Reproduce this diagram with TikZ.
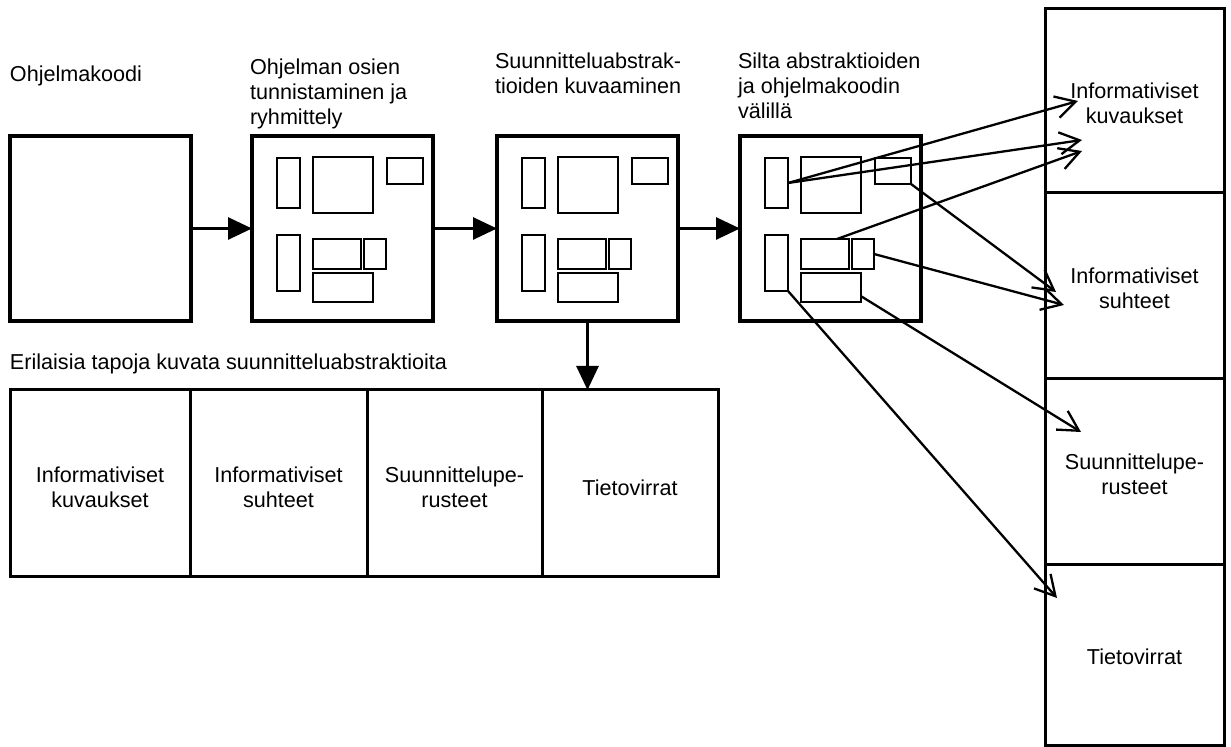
\documentclass[tikz,border=0pt]{standalone}
\usepackage{fontspec}
\setmainfont{Liberation Sans}
\usetikzlibrary{arrows.meta,calc}
\newcommand\diagfont{\fontsize{10.8pt}{12.5pt}\selectfont}
% inner pieces of a stage box, placed relative to the box's top-left corner
\newcommand\stageparts[1]{%
  \node[part,minimum width=11.5pt,minimum height=25pt] (#1a) at (25,22) {};
  \node[part,minimum width=30pt,minimum height=28pt] (#1b) at (61,21) {};
  \node[part,minimum width=18pt,minimum height=13pt] (#1c) at (135,22) {};
  \node[part,minimum width=11.5pt,minimum height=28pt] (#1d) at (25,99) {};
  \node[part,minimum width=24pt,minimum height=15pt] (#1e) at (61,103) {};
  \node[part,minimum width=11pt,minimum height=15pt] (#1f) at (112,103) {};
  \node[part,minimum width=30pt,minimum height=14.5pt] (#1g) at (61,137) {};
}
\begin{document}
\begin{tikzpicture}[x=0.5pt,y=-0.5pt,
  every node/.style={inner sep=0pt,outer sep=0pt,font=\diagfont},
  stage/.style={draw,line width=1.6pt,fill=white,anchor=north west,
    minimum width=90.5pt,minimum height=92.5pt},
  part/.style={draw,line width=1.4pt,anchor=north west},
  cell/.style={draw,line width=1.5pt,anchor=north west,align=center},
  title/.style={anchor=north west,align=left},
  flow/.style={line width=1.4pt,-{Triangle[length=12pt,width=11pt]}},
  link/.style={line width=1.15pt,-{Straight Barb[length=10pt,width=11pt]}}]
\useasboundingbox (0,0) rectangle (1231,747);

% titles
\node[title] (tcode) at (10,66) {Ohjelmakoodi};
\node[title] (tgroup) at (250,59) {Ohjelman osien\\tunnistaminen ja\\ryhmittely};
\node[title] (tdesc) at (495,53) {Suunnitteluabstrak-\\tioiden kuvaaminen};
\node[title] (tbridge) at (738,53) {Silta abstraktioiden\\ja ohjelmakoodin\\välillä};
\node[title] (tways) at (10,354) {Erilaisia tapoja kuvata suunnitteluabstraktioita};

% stage boxes
\node[stage] (code) at (10,136) {};
\node[stage] (group) at (252,136) {};
\node[stage] (desc) at (497,136) {};
\node[stage] (bridge) at (740,136) {};
\begin{scope}[shift={(252,136)}]\stageparts{g}\end{scope}
\begin{scope}[shift={(497,136)}]\stageparts{d}\end{scope}
\begin{scope}[shift={(740,136)}]\stageparts{b}\end{scope}

% ways of describing design abstractions
\node[cell,minimum width=90pt,minimum height=93.5pt] (t1) at (10,390) {};
\node[cell,minimum width=88.5pt,minimum height=93.5pt] (t2) at (190,390) {};
\node[cell,minimum width=87.5pt,minimum height=93.5pt] (t3) at (367,390) {};
\node[cell,minimum width=88pt,minimum height=93.5pt] (t4) at (542,390) {};
\node[align=center] at ($(t1.center)+(0,4)$) {Informativiset\\kuvaukset};
\node[align=center] at ($(t2.center)+(0,4)$) {Informativiset\\suhteet};
\node[align=center] at ($(t3.center)+(0,4)$) {Suunnittelupe-\\rusteet};
\node[align=center] at ($(t4.center)+(0,4)$) {Tietovirrat};

% right-hand column
\node[cell,minimum width=89.5pt,minimum height=92pt] (r1) at (1045,9) {};
\node[cell,minimum width=89.5pt,minimum height=93pt] (r2) at (1045,193) {};
\node[cell,minimum width=89.5pt,minimum height=93pt] (r3) at (1045,379) {};
\node[cell,minimum width=89.5pt,minimum height=90pt] (r4) at (1045,565) {};
\node[align=center] at ($(r1.center)+(0,2)$) {Informativiset\\kuvaukset};
\node[align=center] at ($(r2.center)+(0,2)$) {Informativiset\\suhteet};
\node[align=center] at ($(r3.center)+(0,2)$) {Suunnittelupe-\\rusteet};
\node[align=center] at ($(r4.center)+(0,2)$) {Tietovirrat};

% main flow
\draw[flow] (code.east) -- (group.west);
\draw[flow] (group.east) -- (desc.west);
\draw[flow] (desc.east) -- (bridge.west);
\draw[flow] (desc.south) -- (desc.south |- t4.north);

% links from the bridge pieces to the description kinds
\coordinate (tipA) at (1078,101);
\coordinate (tipB) at (1082,140);
\coordinate (tipC) at (1082,151);
\coordinate (tipD) at (1056,292);
\coordinate (tipE) at (1064,305);
\coordinate (tipF) at (1081,432);
\coordinate (tipG) at (1057,598);
\draw[link] (ba.east) -- (tipA);
\draw[link] (ba.east) -- (tipB);
\draw[link] ($(be.north)!0.5!(be.north east)$) -- (tipC);
\draw[link] (bc.south east) -- (tipD);
\draw[link] (bf.east) -- (tipE);
\draw[link] ($(bg.east)!0.6!(bg.south east)$) -- (tipF);
\draw[link] (bd.south east) -- (tipG);
\end{tikzpicture}
\end{document}
